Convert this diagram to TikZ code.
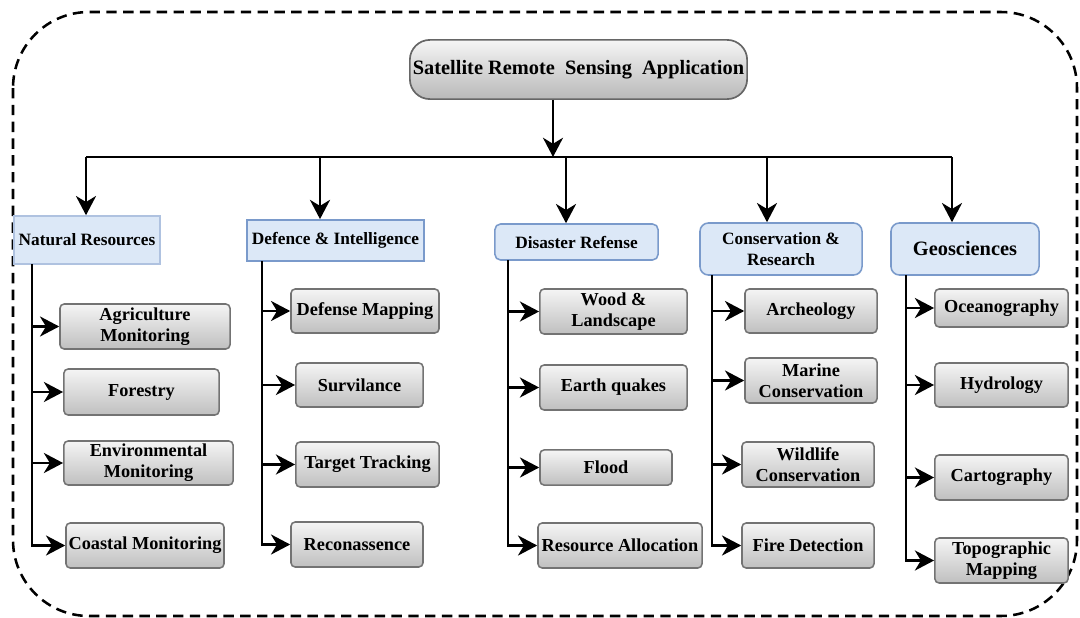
\documentclass[tikz,border=0pt]{standalone}
\usepackage{fontspec}
\setmainfont{Liberation Serif}
\usetikzlibrary{arrows.meta}
\definecolor{headblue}{HTML}{DCE8F7}
\definecolor{headline}{HTML}{7A9ACB}

\begin{document}
\begin{tikzpicture}[
    x=0.025cm, y=-0.025cm,
    root/.style={draw=black!60, line width=1.2pt, rectangle, rounded corners=0.5cm, top color=gray!8, bottom color=gray!55, align=center, inner sep=1pt, font=\bfseries\fontsize{14.5}{16}\selectfont},
    leaf/.style={draw=black!55, line width=1.1pt, rectangle, rounded corners=3pt, top color=gray!8, bottom color=gray!50, align=center, inner sep=1pt, font=\bfseries\fontsize{13}{15}\selectfont},
    head/.style={draw=headline, line width=1.1pt, rectangle, fill=headblue, align=center, inner sep=1pt, font=\bfseries\fontsize{12.3}{15}\selectfont},
    link/.style={line width=2pt},
    >={Stealth[length=4.8mm,width=5mm,inset=1.5mm]},
]
    \useasboundingbox (0,0) rectangle (1080,618);
    \draw[line width=1.8pt, dash pattern=on 2.6mm off 1.6mm, rounded corners=1.9cm] (13,12) rectangle (1077,616);

    % top and categories
    \node[root, minimum width=8.43cm, minimum height=1.48cm] (sat) at (578.5,69.5) {Satellite Remote~ Sensing~ Application};
    \node[head, minimum width=3.65cm, minimum height=1.2cm, draw=headline!60] (nat) at (87,240) {Natural Resources};
    \node[head, minimum width=4.43cm, minimum height=1.03cm] (def) at (335.5,240.5) {Defence \& Intelligence};
    \node[head, rounded corners=4pt, minimum width=4.08cm, minimum height=0.9cm] (dis) at (576.5,242) {Disaster Refense};
    \node[head, rounded corners=6pt, minimum width=4.05cm, minimum height=1.3cm] (con) at (781,249) {Conservation \&\\Research};
    \node[head, rounded corners=6pt, minimum width=3.7cm, minimum height=1.3cm, font=\bfseries\fontsize{14.5}{16}\selectfont] (geo) at (965,249) {Geosciences};

    % leaves
    \node[leaf, minimum width=4.25cm, minimum height=1.125cm] (agri) at (145,326.5) {Agriculture\\Monitoring};
    \node[leaf, minimum width=3.88cm, minimum height=1.15cm]  (fore) at (141.5,392) {Forestry};
    \node[leaf, minimum width=4.23cm, minimum height=1.1cm]   (envi) at (148.5,463) {Environmental\\Monitoring};
    \node[leaf, minimum width=3.95cm, minimum height=1.125cm] (coas) at (145,545.5) {Coastal Monitoring};

    \node[leaf, minimum width=3.7cm, minimum height=1.1cm]    (dmap) at (365,311) {Defense Mapping};
    \node[leaf, minimum width=3.18cm, minimum height=1.1cm]   (surv) at (359.5,385) {Survilance};
    \node[leaf, minimum width=3.58cm, minimum height=1.125cm] (targ) at (367.5,464.5) {Target Tracking};
    \node[leaf, minimum width=3.3cm, minimum height=1.125cm]  (reco) at (357,544.5) {Reconassence};

    \node[leaf, minimum width=3.68cm, minimum height=1.125cm] (wood) at (613.5,311.5) {Wood \&\\Landscape};
    \node[leaf, minimum width=3.68cm, minimum height=1.125cm] (eart) at (613.5,387.5) {Earth quakes};
    \node[leaf, minimum width=3.3cm, minimum height=0.88cm]   (floo) at (606,467.5) {Flood};
    \node[leaf, minimum width=4.1cm, minimum height=1.125cm]  (reso) at (620,545.5) {Resource Allocation};

    \node[leaf, minimum width=3.3cm, minimum height=1.1cm]    (arch) at (811,311) {Archeology};
    \node[leaf, minimum width=3.3cm, minimum height=1.125cm]  (mari) at (811,380.5) {Marine\\Conservation};
    \node[leaf, minimum width=3.3cm, minimum height=1.125cm]  (wild) at (808,464.5) {Wildlife\\Conservation};
    \node[leaf, minimum width=3.3cm, minimum height=1.125cm]  (fire) at (808,545.5) {Fire Detection};

    \node[leaf, minimum width=3.33cm, minimum height=0.95cm]  (ocea) at (1001.5,308) {Oceanography};
    \node[leaf, minimum width=3.33cm, minimum height=1.1cm]   (hydr) at (1001.5,385) {Hydrology};
    \node[leaf, minimum width=3.33cm, minimum height=1.125cm] (cart) at (1001.5,477.5) {Cartography};
    \node[leaf, minimum width=3.33cm, minimum height=1.125cm] (topo) at (1001.5,560.5) {Topographic\\Mapping};

    % bus
    \coordinate (bus)  at (553,157);
    \coordinate (busL) at (86,157);
    \coordinate (busR) at (952,157);
    \coordinate (b2)   at (320,157);
    \coordinate (b3)   at (566,157);
    \coordinate (b4)   at (767,157);
    \draw[link, ->] (sat.south -| bus) -- (bus);
    \draw[link] (busL) -- (busR);
    \draw[link, ->] (busL) -- (busL |- nat.north);
    \draw[link, ->] (b2) -- (b2 |- def.north);
    \draw[link, ->] (b3) -- (b3 |- dis.north);
    \draw[link, ->] (b4) -- (b4 |- con.north);
    \draw[link, ->] (busR) -- (busR |- geo.north);

    % trunks
    \coordinate (natT) at (32,264);
    \coordinate (defT) at (262,261);
    \coordinate (disT) at (508,260);
    \coordinate (conT) at (712,275);
    \coordinate (geoT) at (906,275);
    \foreach \n in {agri,fore,envi,coas} \draw[link, ->] (natT) |- (\n.west);
    \foreach \n in {dmap,surv,targ,reco} \draw[link, ->] (defT) |- (\n.west);
    \foreach \n in {wood,eart,floo,reso} \draw[link, ->] (disT) |- (\n.west);
    \foreach \n in {arch,mari,wild,fire} \draw[link, ->] (conT) |- (\n.west);
    \foreach \n in {ocea,hydr,cart,topo} \draw[link, ->] (geoT) |- (\n.west);
\end{tikzpicture}
\end{document}
